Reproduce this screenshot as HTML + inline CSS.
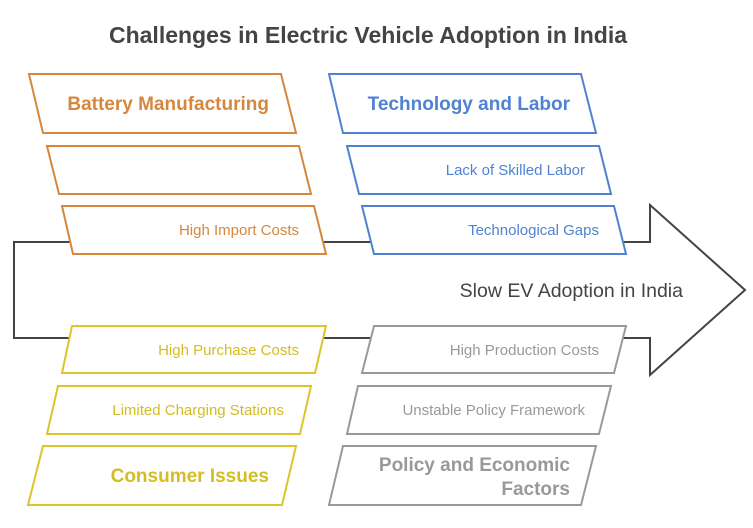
<!DOCTYPE html>
<html><head><meta charset="utf-8"><style>body{margin:0;background:#fff}</style></head><body>
<svg width="753" height="523" viewBox="0 0 753 523" xmlns="http://www.w3.org/2000/svg" font-family="Liberation Sans, sans-serif">
<rect width="753" height="523" fill="#fff"/>
<text x="368" y="43" text-anchor="middle" font-size="23" font-weight="bold" fill="#444">Challenges in Electric Vehicle Adoption in India</text>
<polygon points="14,242 650,242 650,205 745,290 650,375 650,338 14,338" fill="#fff" stroke="#444" stroke-width="2"/>
<text x="683" y="297" text-anchor="end" font-size="19.5" fill="#444">Slow EV Adoption in India</text>
<g fill="#fff" stroke-width="2">
<polygon points="29,74 281,74 296,133 43,133" stroke="#d6873b"/>
<polygon points="47,146 299,146 311,194 59,194" stroke="#d6873b"/>
<polygon points="62,206 314,206 326,254 73,254" stroke="#d6873b"/>
<polygon points="329,74 581,74 596,133 343,133" stroke="#4f82d2"/>
<polygon points="347,146 599,146 611,194 359,194" stroke="#4f82d2"/>
<polygon points="362,206 614,206 626,254 374,254" stroke="#4f82d2"/>
<polygon points="72,326 326,326 315,373 62,373" stroke="#dcc52c"/>
<polygon points="58,386 311,386 300,434 47,434" stroke="#dcc52c"/>
<polygon points="43,446 296,446 282,505 28,505" stroke="#dcc52c"/>
<polygon points="374,326 626,326 614,373 362,373" stroke="#999"/>
<polygon points="358,386 611,386 599,434 347,434" stroke="#999"/>
<polygon points="343,446 596,446 581,505 329,505" stroke="#999"/>
</g>
<g text-anchor="end">
<text x="269" y="110" font-size="19" font-weight="bold" fill="#d6873b">Battery Manufacturing</text>
<text x="299" y="235" font-size="15" fill="#d6873b">High Import Costs</text>
<text x="570" y="110" font-size="19" font-weight="bold" fill="#4f82d2">Technology and Labor</text>
<text x="585" y="175" font-size="15" fill="#4f82d2">Lack of Skilled Labor</text>
<text x="599" y="235" font-size="15" fill="#4f82d2">Technological Gaps</text>
<text x="299" y="355" font-size="15" fill="#d4bd22">High Purchase Costs</text>
<text x="284" y="415" font-size="15" fill="#d4bd22">Limited Charging Stations</text>
<text x="269" y="482" font-size="19" font-weight="bold" fill="#d4bd22">Consumer Issues</text>
<text x="599" y="355" font-size="15" fill="#999">High Production Costs</text>
<text x="585" y="415" font-size="15" fill="#999">Unstable Policy Framework</text>
<text x="570" y="471" font-size="19" font-weight="bold" fill="#999">Policy and Economic</text>
<text x="570" y="495" font-size="19" font-weight="bold" fill="#999">Factors</text>
</g>
</svg>
</body></html>
